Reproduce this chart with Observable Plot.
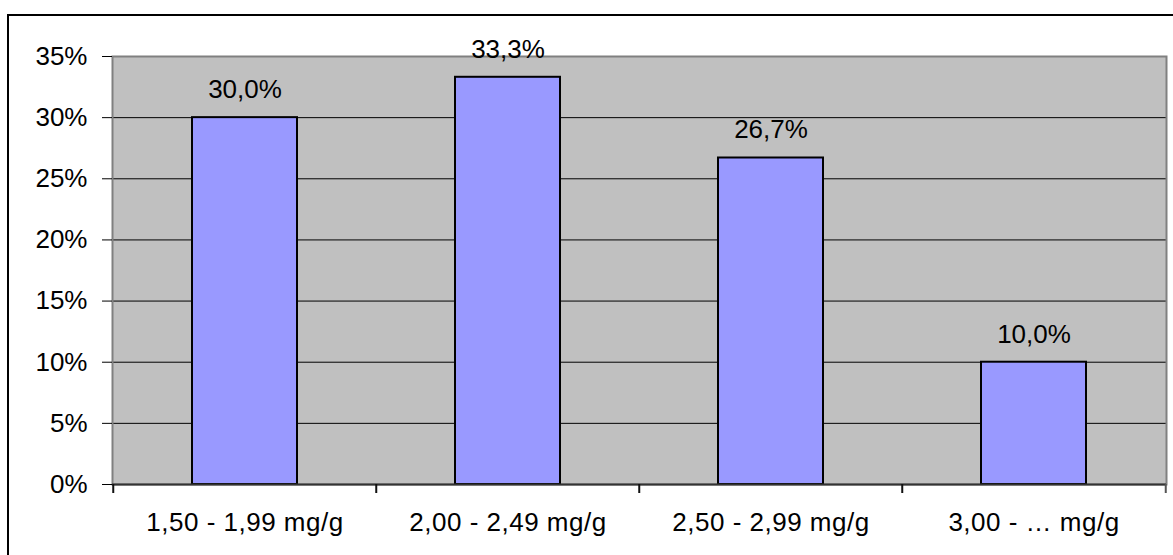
<!DOCTYPE html>
<html><head><meta charset="utf-8">
<script src="https://cdn.jsdelivr.net/npm/d3@7"></script>
<script src="https://cdn.jsdelivr.net/npm/@observablehq/plot@0.6"></script>
<style>
html,body{margin:0;padding:0;background:#fff;overflow:hidden;width:1173px;height:555px;}
#wrap{position:relative;width:1173px;height:555px;overflow:hidden;}
#chart{position:absolute;left:0;top:0;}
#frame{position:absolute;left:7px;top:14px;width:1200px;height:600px;border:2px solid #000;box-sizing:border-box;pointer-events:none;}
#chart svg g[aria-label="x-axis tick label"] text{letter-spacing:0.5px;}
</style></head>
<body><div id="wrap"><div id="chart"></div><div id="frame"></div></div>
<script>
const categories = ["1,50 - 1,99 mg/g", "2,00 - 2,49 mg/g", "2,50 - 2,99 mg/g", "3,00 - … mg/g"];
const shares = [30.0, 33.3, 26.7, 10.0];
const yTicks = [0, 5, 10, 15, 20, 25, 30, 35];
const yTickLabels = ["0%", "5%", "10%", "15%", "20%", "25%", "30%", "35%"];

const data = categories.map((c, i) => ({category: c, share: shares[i]}));
const comma = d3.formatLocale({decimal: ",", thousands: ".", grouping: [3], currency: ["", ""]}).format(".1f");

const W = 1173, H = 555, mL = 112, mR = 7, mT = 56, mB = 71;
const step = (W - mL - mR) / categories.length;
const font = "'Liberation Sans', Arial, Helvetica, sans-serif";

const chart = Plot.plot({
  width: W, height: H,
  marginLeft: mL, marginRight: mR, marginTop: mT, marginBottom: mB,
  style: {fontFamily: font, fontSize: "26px", color: "#000", background: "transparent", overflow: "visible"},
  x: {domain: categories, paddingInner: 0.6, paddingOuter: 0.3, label: null},
  y: {domain: [0, 35], label: null},
  marks: [
    Plot.frame({fill: "#C0C0C0"}),
    Plot.ruleY(yTicks.filter(t => t > 0 && t < 35), {stroke: "#000", strokeWidth: 1}),
    Plot.frame({stroke: "#808080", strokeWidth: 2}),
    Plot.barY(data, {x: "category", y: "share", fill: "#9999FF", stroke: "#000", strokeWidth: 2}),
    Plot.ruleY([0], {stroke: "#333", strokeWidth: 2}),
    Plot.ruleX(categories, {x: d => d, dx: -step / 2, y1: 0, y2: 0, insetBottom: -9, stroke: "#111", strokeWidth: 2}),
    Plot.ruleX(categories.slice(-1), {x: d => d, dx: step / 2, y1: 0, y2: 0, insetBottom: -9, stroke: "#555", strokeWidth: 2}),
    Plot.axisY({ticks: yTicks, tickFormat: (d) => yTickLabels[yTicks.indexOf(d)], tickSize: 10, tickPadding: 15, label: null, fontSize: 26, stroke: "#000"}),
    Plot.axisX({tickSize: 0, tickPadding: 28, label: null, fontSize: 26}),
    Plot.text(data, {x: "category", y: "share", text: d => comma(d.share) + "%", dy: -28, fontSize: 26, fill: "#000"})
  ]
});
document.getElementById("chart").appendChild(chart);
</script>
</body></html>
